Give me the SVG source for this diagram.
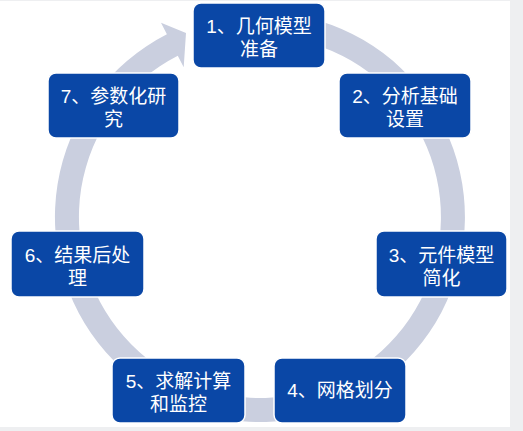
<svg xmlns="http://www.w3.org/2000/svg" width="523" height="431" viewBox="0 0 523 431">
<style>
.box{fill:#0A47A6;stroke:#FFFFFF;stroke-width:1.5}
.t{fill:#FFFFFF;font-family:"Liberation Sans","Noto Sans CJK SC",sans-serif;font-size:19px;text-anchor:middle}
.ring{fill:#CACFDF}
</style>
<rect x="0" y="0" width="523" height="431" fill="#EEEFF1"/>
<rect x="0" y="1" width="510" height="426" fill="#FFFFFF"/>
<g id="connectors">
<path class="ring" d="M295.6,15.1 A205,205 0 1 1 166.9,34.3 L161,22.8 L186,33 L183.7,67.3 L177.8,55.7 A181,181 0 1 0 291.4,38.75 Z"/>
</g>
<g id="n1"><rect class="box" x="193" y="3" width="132" height="65" rx="8"/><text class="t" x="259" y="33">1、几何模型</text><text class="t" x="259" y="56">准备</text></g>
<g id="n2"><rect class="box" x="339" y="73" width="132" height="65" rx="8"/><text class="t" x="405" y="103">2、分析基础</text><text class="t" x="405" y="126">设置</text></g>
<g id="n3"><rect class="box" x="376" y="231" width="131" height="66" rx="8"/><text class="t" x="441.5" y="262">3、元件模型</text><text class="t" x="441.5" y="285">简化</text></g>
<g id="n4"><rect class="box" x="274" y="358" width="132" height="65" rx="8"/><text class="t" x="340" y="397">4、网格划分</text></g>
<g id="n5"><rect class="box" x="112" y="358" width="133" height="65" rx="8"/><text class="t" x="178.5" y="388">5、求解计算</text><text class="t" x="178.5" y="411">和监控</text></g>
<g id="n6"><rect class="box" x="11" y="231" width="133" height="66" rx="8"/><text class="t" x="77.5" y="262">6、结果后处</text><text class="t" x="77.5" y="285">理</text></g>
<g id="n7"><rect class="box" x="48" y="73" width="131" height="65" rx="8"/><text class="t" x="113.5" y="103">7、参数化研</text><text class="t" x="113.5" y="126">究</text></g>
</svg>
